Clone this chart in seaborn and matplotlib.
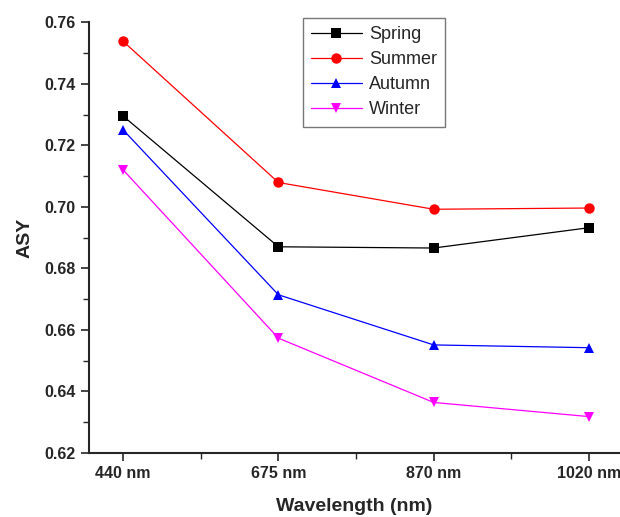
import numpy as np
import pandas as pd
import matplotlib.pyplot as plt
import seaborn as sns
from matplotlib.ticker import MultipleLocator

sns.set_style('ticks')
plt.rcParams['font.family'] = ['Liberation Sans', 'DejaVu Sans']

# data
wavelengths = ['440 nm', '675 nm', '870 nm', '1020 nm']
seasons = ['Spring', 'Summer', 'Autumn', 'Winter']
spring = [0.7295, 0.687, 0.6866, 0.6932]
summer = [0.7538, 0.7079, 0.6992, 0.6996]
autumn = [0.7250, 0.6714, 0.6551, 0.6542]
winter = [0.7120, 0.6573, 0.6364, 0.6318]

colors = {'Spring': 'black', 'Summer': 'red', 'Autumn': 'blue', 'Winter': 'magenta'}
markers = {'Spring': 's', 'Summer': 'o', 'Autumn': '^', 'Winter': 'v'}

rows = []
for name, vals in zip(seasons, [spring, summer, autumn, winter]):
    for i, v in enumerate(vals):
        rows.append({'pos': i, 'ASY': v, 'Season': name})
df = pd.DataFrame(rows)

fig = plt.figure(figsize=(6.2, 5.17), dpi=100)
ax = fig.add_axes([0.1435, 0.124, 0.8565, 0.833])

sns.lineplot(data=df, x='pos', y='ASY', hue='Season', style='Season',
             hue_order=seasons, style_order=seasons, palette=colors,
             markers=markers, dashes=False, markersize=7.5, linewidth=0.9,
             markeredgewidth=0, ax=ax)

ax.set_xlim(-0.22, 3.2)
ax.set_ylim(0.62, 0.76)
ax.set_xticks(range(len(wavelengths)))
ax.set_xticklabels(wavelengths)
ax.xaxis.set_minor_locator(MultipleLocator(0.5))
ax.yaxis.set_major_locator(MultipleLocator(0.02))
ax.yaxis.set_minor_locator(MultipleLocator(0.01))
ax.yaxis.set_major_formatter(plt.FormatStrFormatter('%.2f'))

ax.tick_params(which='major', direction='out', length=6, width=1.2, labelsize=11.5)
ax.tick_params(which='minor', direction='out', length=4, width=1.0)
for lab in ax.get_xticklabels() + ax.get_yticklabels():
    lab.set_fontweight('bold')

for side in ['top', 'right']:
    ax.spines[side].set_visible(False)
for side in ['left', 'bottom']:
    ax.spines[side].set_linewidth(1.5)

ax.set_xlabel('Wavelength (nm)', fontsize=14, fontweight='bold', labelpad=12)
ax.set_ylabel('ASY', fontsize=14, fontweight='bold', labelpad=8)

leg = ax.legend(loc='upper left', bbox_to_anchor=(0.403, 1.01), fontsize=13,
                frameon=True, fancybox=False, edgecolor='#555555',
                handlelength=2.8, handletextpad=0.4, labelspacing=0.45,
                borderpad=0.45, borderaxespad=0)
leg.get_frame().set_linewidth(1.0)
for h in leg.legend_handles:
    h.set_markersize(7.5)

fig.savefig('out.png', dpi=100)
